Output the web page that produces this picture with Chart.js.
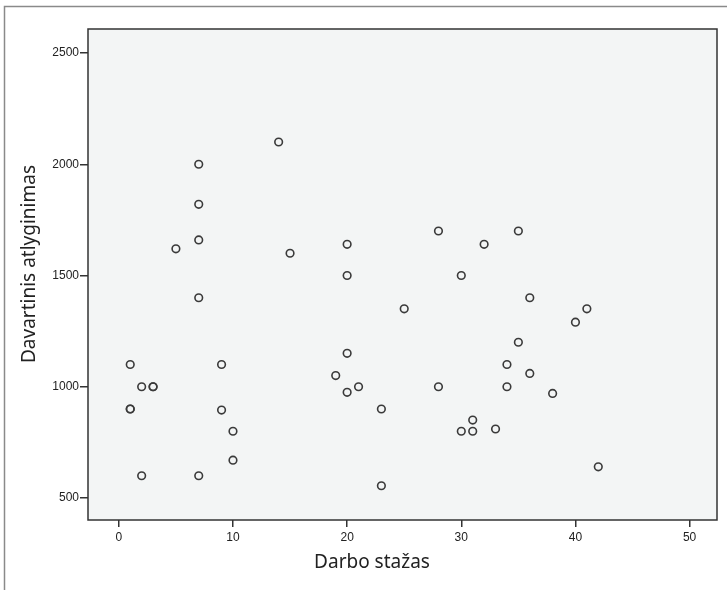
<!DOCTYPE html>
<html><head><meta charset="utf-8">
<script src="https://cdn.jsdelivr.net/npm/chart.js@4"></script>
<style>html,body{margin:0;padding:0;background:#fff}canvas{display:block}</style>
</head><body>
<canvas id="c" width="727" height="590"></canvas>
<script>
const stazas = [7,7,7,5,7,14,15,1,2,3,3,1,1,2,9,9,10,10,7,20,20,28,32,35,30,25,36,41,40,35,20,19,20,21,23,23,28,30,31,31,33,34,34,36,38,42];
const atlyginimas = [2000,1820,1660,1620,1400,2100,1600,1100,1000,1000,1000,900,900,600,1100,895,800,670,600,1640,1500,1700,1640,1700,1500,1350,1400,1350,1290,1200,1150,1050,975,1000,900,555,1000,800,800,850,810,1100,1000,1060,970,640];
const xTicks = [0,10,20,30,40,50];
const yTicks = [500,1000,1500,2000,2500];
const xTitle = 'Darbo stažas';
const yTitle = 'Davartinis atlyginimas';

const points = stazas.map((x,i)=>({x:x, y:atlyginimas[i]}));

const framePlugin = {
  id:'frame',
  beforeDraw(chart){
    const ctx = chart.ctx, a = chart.chartArea;
    ctx.save();
    ctx.fillStyle='#fff'; ctx.fillRect(0,0,chart.width,chart.height);
    ctx.strokeStyle='#8a8a8a'; ctx.lineWidth=1.5;
    ctx.beginPath(); ctx.moveTo(4.5,chart.height); ctx.lineTo(4.5,6.5); ctx.lineTo(chart.width,6.5); ctx.stroke();
    ctx.fillStyle='#f3f5f5'; ctx.fillRect(a.left,a.top,a.right-a.left,a.bottom-a.top);
    ctx.restore();
  },
  beforeDatasetsDraw(chart){
    const ctx = chart.ctx, a = chart.chartArea;
    ctx.save();
    ctx.strokeStyle='#333'; ctx.lineWidth=1.5;
    ctx.strokeRect(a.left,a.top,a.right-a.left,a.bottom-a.top);
    ctx.restore();
  },
  afterDraw(chart){
    const ctx = chart.ctx;
    ctx.save();
    ctx.fillStyle='#222';
    ctx.font='19px "Noto Sans", sans-serif';
    ctx.textAlign='center'; ctx.textBaseline='middle';
    ctx.fillText(xTitle, 372, 563);
    ctx.translate(30,264); ctx.rotate(-Math.PI/2);
    ctx.fillText(yTitle, 0, 0);
    ctx.restore();
  }
};

const tickFont = {family:'"Liberation Sans", Arial, sans-serif', size:12};

new Chart(document.getElementById('c'), {
  type:'scatter',
  data:{datasets:[{data:points, pointRadius:3.8, pointBorderWidth:1.6, borderColor:'#3a3a3a', backgroundColor:'rgba(0,0,0,0)', pointHoverRadius:3.8}]},
  options:{
    responsive:false, animation:false,
    layout:{padding:{top:29,right:10,left:0,bottom:0}},
    plugins:{legend:{display:false}, tooltip:{enabled:false}},
    scales:{
      x:{type:'linear', min:-2.7, max:52.4,
        afterBuildTicks(s){ s.ticks = xTicks.map(v=>({value:v})); },
        afterFit(s){ s.height = 70; },
        border:{display:false},
        grid:{drawOnChartArea:false, drawTicks:true, tickLength:7, color:'#333', lineWidth:1.5},
        ticks:{font:tickFont, color:'#222', padding:3, maxRotation:0, callback:v=>String(v)}
      },
      y:{type:'linear', min:401, max:2608,
        afterBuildTicks(s){ s.ticks = yTicks.map(v=>({value:v})); },
        afterFit(s){ s.width = 88; },
        border:{display:false},
        grid:{drawOnChartArea:false, drawTicks:true, tickLength:8, color:'#333', lineWidth:1.5},
        ticks:{font:tickFont, color:'#222', padding:1, callback:v=>String(v)}
      }
    }
  },
  plugins:[framePlugin]
});
</script>
</body></html>
